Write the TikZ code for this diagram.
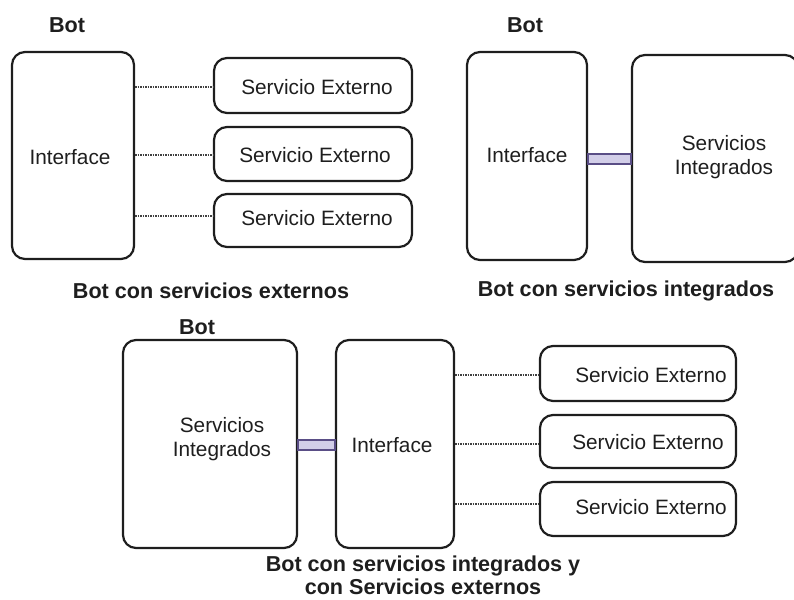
\documentclass[tikz,border=0pt]{standalone}
\usepackage{fontspec}
\setmainfont{Liberation Sans}
\definecolor{ink}{HTML}{1E1E1E}
\definecolor{barfill}{HTML}{D2CEE8}
\definecolor{barline}{HTML}{5A4E86}
\begin{document}
\begin{tikzpicture}[x=1pt,y=-1pt,
  box/.style={draw=ink, line width=2.2pt, rounded corners=13pt, inner sep=0pt},
  txt/.style={font=\fontsize{20.8}{23.5}\selectfont, text=ink, align=center},
  ttl/.style={font=\fontsize{21.6}{23}\selectfont\bfseries, text=ink, align=center},
  dots/.style={draw=ink!85, line width=1.8pt, dash pattern=on 1.4pt off 1.1pt},
  barbox/.style={draw=barline, line width=1.5pt, fill=barfill}]
\useasboundingbox (0,0) rectangle (794,599);
\clip (0,0) rectangle (794,599);
% ---------- top-left panel ----------
\node[ttl] (botA) at (67,25) {Bot};
\node[box, minimum width=122pt, minimum height=207pt] (ifA) at (73,155.5) {};
\node[txt] (ifAt) at (70,157) {Interface};
\node[box, minimum width=198pt, minimum height=55pt] (eA1) at (313,85.5) {};
\node[box, minimum width=198pt, minimum height=54pt] (eA2) at (313,154) {};
\node[box, minimum width=198pt, minimum height=53pt] (eA3) at (313,220.5) {};
\node[txt] (eA1t) at (317,87) {Servicio Externo};
\node[txt] (eA2t) at (315,155) {Servicio Externo};
\node[txt] (eA3t) at (317,218) {Servicio Externo};
\draw[dots] (ifA.east |- 0,87) -- (eA1.west |- 0,87);
\draw[dots] (ifA.east |- 0,155) -- (eA2.west |- 0,155);
\draw[dots] (ifA.east |- 0,216) -- (eA3.west |- 0,216);
\node[ttl] (capA) at (211,291) {Bot con servicios externos};
% ---------- top-right panel ----------
\node[ttl] (botB) at (525,25) {Bot};
\node[box, minimum width=120pt, minimum height=208pt] (ifB) at (527,156) {};
\node[txt] (ifBt) at (527,155) {Interface};
\node[box, minimum width=166pt, minimum height=207pt] (siB) at (715,158.5) {};
\node[txt] (siBt) at (724,157) {Servicios\\Integrados};
\draw[barbox] (ifB.east |- 0,154) rectangle (siB.west |- 0,164);
\node[ttl] (capB) at (626,291) {Bot con servicios integrados};
% ---------- bottom panel ----------
\node[ttl] (botC) at (197,327) {Bot};
\node[box, minimum width=174pt, minimum height=208pt] (siC) at (210,444) {};
\node[txt] (siCt) at (222,439) {Servicios\\Integrados};
\node[box, minimum width=118pt, minimum height=208pt] (ifC) at (395,444) {};
\node[txt] (ifCt) at (392,445) {Interface};
\draw[barbox] (siC.east |- 0,440) rectangle (ifC.west |- 0,450);
\node[box, minimum width=196pt, minimum height=55pt] (eC1) at (638,373.5) {};
\node[box, minimum width=196pt, minimum height=53pt] (eC2) at (638,441.5) {};
\node[box, minimum width=196pt, minimum height=54pt] (eC3) at (638,509) {};
\node[txt] (eC1t) at (651,375) {Servicio Externo};
\node[txt] (eC2t) at (648,442) {Servicio Externo};
\node[txt] (eC3t) at (651,507) {Servicio Externo};
\draw[dots] (ifC.east |- 0,375) -- (eC1.west |- 0,375);
\draw[dots] (ifC.east |- 0,444) -- (eC2.west |- 0,444);
\draw[dots] (ifC.east |- 0,504) -- (eC3.west |- 0,504);
\node[ttl, inner sep=1pt] (capC) at (423,575) {Bot con servicios integrados y\\con Servicios externos};
\end{tikzpicture}
\end{document}
